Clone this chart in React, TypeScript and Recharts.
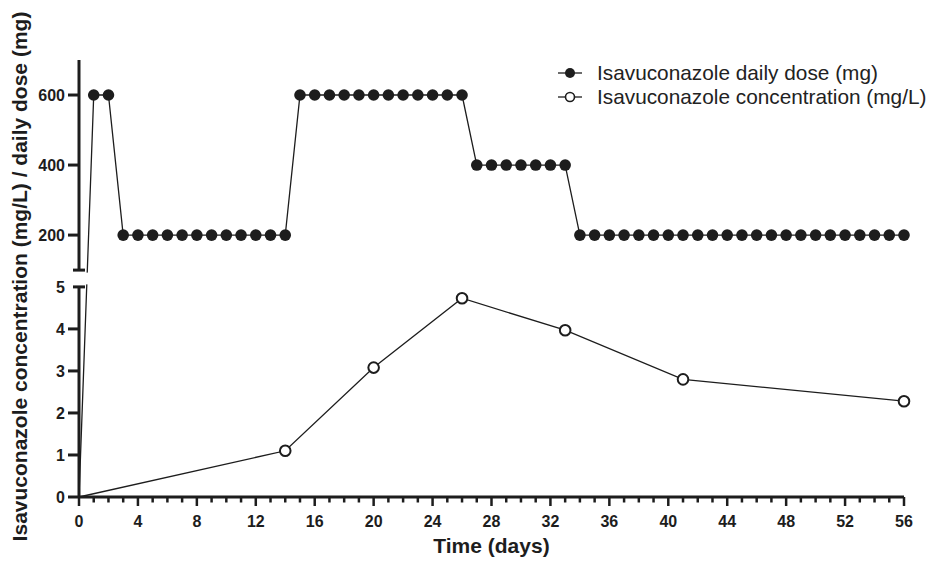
import { ComposedChart, Legend, Line, ReferenceArea, ReferenceLine, XAxis, YAxis } from "recharts";

const doseDays = [
  0, 1, 2, 3, 4, 5, 6, 7, 8, 9, 10, 11, 12, 13, 14, 15, 16, 17, 18, 19, 20, 21, 22, 23, 24, 25, 26, 27, 28,
  29, 30, 31, 32, 33, 34, 35, 36, 37, 38, 39, 40, 41, 42, 43, 44, 45, 46, 47, 48, 49, 50, 51, 52, 53, 54, 55, 56,
];
const doseMg = [
  0, 600, 600, 200, 200, 200, 200, 200, 200, 200, 200, 200, 200, 200, 200, 600, 600, 600, 600, 600, 600, 600,
  600, 600, 600, 600, 600, 400, 400, 400, 400, 400, 400, 400, 200, 200, 200, 200, 200, 200, 200, 200, 200, 200,
  200, 200, 200, 200, 200, 200, 200, 200, 200, 200, 200, 200, 200,
];
const concDays = [0, 14, 20, 26, 33, 41, 56];
const concMgL = [0, 1.1, 3.08, 4.73, 3.97, 2.8, 2.28];

const dayTicks = doseDays;
const majorDayTicks = [0, 4, 8, 12, 16, 20, 24, 28, 32, 36, 40, 44, 48, 52, 56];
const concTicks = [0, 1, 2, 3, 4, 5];
const doseTicks = [200, 400, 600];

const seriesNames = ["Isavuconazole daily dose (mg)", "Isavuconazole concentration (mg/L)"];

// broken y axis: 0-5 below the break, 100-700 above it
const LOW_MAX = 5;
const GAP = 0.4;
const HIGH_MIN = 100;
const HIGH_MAX = 700;
const HIGH_UNIT = 5 / 600;

const toAxis = (v: number) => (v <= LOW_MAX ? v : LOW_MAX + GAP + (v - HIGH_MIN) * HIGH_UNIT);
const fromAxis = (v: number) =>
  v <= LOW_MAX + 1e-9 ? v : Math.round(HIGH_MIN + (v - LOW_MAX - GAP) / HIGH_UNIT);

const BREAK_TOP = toAxis(HIGH_MIN);
const yTicks = [...concTicks, BREAK_TOP, ...doseTicks.map(toAxis)];

const doseData = doseDays.map((day, i) => ({ day, y: toAxis(doseMg[i]) }));
const concData = concDays.map((day, i) => ({ day, y: toAxis(concMgL[i]) }));

const INK = "#1d1d1d";
const FONT = "'Liberation Sans', Arial, sans-serif";

function XTick({ x, y, payload }: any) {
  const major = majorDayTicks.includes(payload.value);
  return (
    <g>
      <line x1={x} x2={x} y1={y} y2={y + (major ? 9 : 5.5)} stroke={INK} strokeWidth={2.5} />
      {major && (
        <text x={x} y={y + 30} textAnchor="middle" fill={INK} fontSize={16} fontWeight={700} fontFamily={FONT}>
          {payload.value}
        </text>
      )}
    </g>
  );
}

function YTick({ x, y, payload }: any) {
  const v = payload.value;
  const isCap = Math.abs(v - LOW_MAX) < 1e-9 || Math.abs(v - BREAK_TOP) < 1e-9;
  const showLabel = Math.abs(v - BREAK_TOP) > 1e-9;
  return (
    <g>
      {isCap ? (
        <line x1={x - 6} x2={x + 6} y1={y} y2={y} stroke={INK} strokeWidth={3} />
      ) : (
        <line x1={x - 11} x2={x} y1={y} y2={y} stroke={INK} strokeWidth={3} />
      )}
      {showLabel && (
        <text x={x - 14} y={y} dy="0.36em" textAnchor="end" fill={INK} fontSize={16} fontWeight={700} fontFamily={FONT}>
          {fromAxis(v)}
        </text>
      )}
    </g>
  );
}

function DoseDot({ cx, cy, payload, index }: any) {
  if (payload.day === 0) return <g key={`d-${index}`} />;
  return <circle key={`d-${index}`} cx={cx} cy={cy} r={5.8} fill={INK} />;
}

function ConcDot({ cx, cy, payload, index }: any) {
  if (payload.day === 0) return <g key={`c-${index}`} />;
  return <circle key={`c-${index}`} cx={cx} cy={cy} r={5.3} fill="#fff" stroke={INK} strokeWidth={2} />;
}

function ChartLegend() {
  return (
    <div style={{ fontFamily: FONT, fontSize: 20.8, color: "#222" }}>
      {seriesNames.map((name, i) => (
        <div key={name} style={{ display: "flex", alignItems: "center", height: 24 }}>
          <svg width={26} height={14} style={{ marginRight: 13 }}>
            <line x1={0} x2={24} y1={7} y2={7} stroke={INK} strokeWidth={1.3} />
            {i === 0 ? (
              <circle cx={12} cy={7} r={5} fill={INK} />
            ) : (
              <circle cx={12} cy={7} r={4.5} fill="#fff" stroke={INK} strokeWidth={1.6} />
            )}
          </svg>
          <span style={{ whiteSpace: "nowrap" }}>{name}</span>
        </div>
      ))}
    </div>
  );
}

export default function App() {
  return (
    <div style={{ position: "absolute", left: 0, top: 0, width: 930, height: 561, background: "#fff" }}>
      <ComposedChart width={930} height={561} margin={{ top: 60, right: 26, bottom: 0, left: 0 }}>
        <XAxis
          type="number"
          dataKey="day"
          domain={[0, 56]}
          ticks={dayTicks}
          interval={0}
          height={64}
          tickSize={0}
          tickMargin={0}
          tick={<XTick />}
          axisLine={{ stroke: INK, strokeWidth: 3 }}
          allowDuplicatedCategory={false}
          label={{
            content: ({ viewBox }: any) => (
              <text
                x={viewBox.x + viewBox.width / 2}
                y={viewBox.y + 56}
                textAnchor="middle"
                fill={INK}
                fontSize={21}
                fontWeight={700}
                fontFamily={FONT}
              >
                Time (days)
              </text>
            ),
          }}
        />
        <YAxis
          type="number"
          domain={[0, toAxis(HIGH_MAX)]}
          ticks={yTicks}
          interval={0}
          width={79}
          tickSize={0}
          tickMargin={0}
          tick={<YTick />}
          axisLine={false}
          label={{
            content: ({ viewBox }: any) => {
              const cx = 27;
              const cy = viewBox.y + viewBox.height / 2 - 2;
              return (
                <text
                  x={cx}
                  y={cy}
                  transform={`rotate(-90 ${cx} ${cy})`}
                  textAnchor="middle"
                  fill={INK}
                  fontSize={21}
                  fontWeight={700}
                  fontFamily={FONT}
                >
                  Isavuconazole concentration (mg/L) / daily dose (mg)
                </text>
              );
            },
          }}
        />
        <ReferenceLine
          segment={[{ x: 0, y: 0 }, { x: 0, y: LOW_MAX }]}
          stroke={INK}
          strokeWidth={3}
          ifOverflow="visible"
        />
        <ReferenceLine
          segment={[{ x: 0, y: BREAK_TOP }, { x: 0, y: toAxis(HIGH_MAX) }]}
          stroke={INK}
          strokeWidth={3}
          ifOverflow="visible"
        />
        <Line
          data={doseData}
          dataKey="y"
          name={seriesNames[0]}
          stroke={INK}
          strokeWidth={1.3}
          dot={DoseDot}
          activeDot={false}
          isAnimationActive={false}
        />
        <Line
          data={concData}
          dataKey="y"
          name={seriesNames[1]}
          stroke={INK}
          strokeWidth={1.3}
          dot={ConcDot}
          activeDot={false}
          isAnimationActive={false}
        />
        <ReferenceArea
          x1={0.45}
          x2={0.75}
          y1={LOW_MAX + 0.06}
          y2={BREAK_TOP - 0.06}
          fill="#fff"
          fillOpacity={1}
          stroke="none"
          ifOverflow="visible"
          {...({ zIndex: 1000 } as any)}
        />
        <Legend
          layout="vertical"
          align="center"
          verticalAlign="middle"
          content={() => <ChartLegend />}
          wrapperStyle={{ position: "absolute", left: 558, top: 61, width: 372 }}
        />
      </ComposedChart>
    </div>
  );
}
